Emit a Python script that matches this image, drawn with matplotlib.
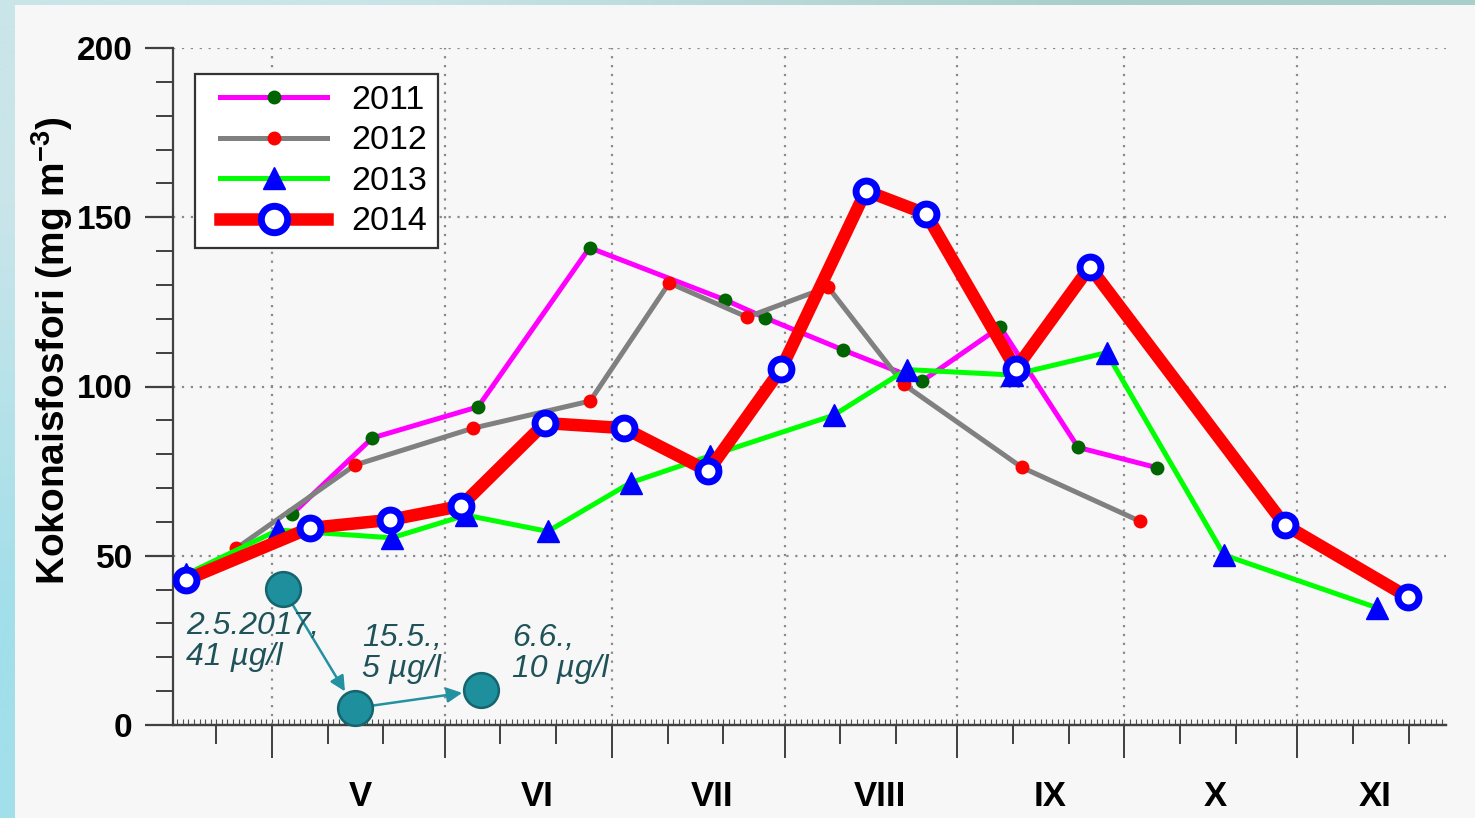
import datetime
import numpy as np
import matplotlib
matplotlib.use("Agg")
import matplotlib.pyplot as plt
from matplotlib.colors import to_rgb
from matplotlib.patches import Rectangle
from matplotlib.lines import Line2D
from matplotlib.legend_handler import HandlerLine2D

plt.rcParams['font.family'] = ['Liberation Sans', 'DejaVu Sans']
plt.rcParams['mathtext.fontset'] = 'custom'
plt.rcParams['mathtext.rm'] = 'Liberation Sans'
plt.rcParams['mathtext.bf'] = 'Liberation Sans:bold'
plt.rcParams['mathtext.default'] = 'bf'

NARROW = ['Liberation Sans Narrow', 'Liberation Sans', 'DejaVu Sans']

# sampling day (day of year) and total phosphorus (mg m-3) per year
days_2011 = [124.6, 139, 158, 178, 202.3, 209.5, 223.5, 237.7, 251.7, 265.7, 279.9]
vals_2011 = [62.3, 84.8, 94, 141, 125.6, 120.3, 110.8, 101.6, 117.6, 82, 76]

days_2012 = [114.6, 135.9, 157.1, 178.1, 192.3, 206.3, 220.8, 234.4, 255.6, 276.8]
vals_2012 = [52.2, 76.8, 87.7, 95.7, 130.6, 120.5, 129.4, 100.6, 76.1, 60.2]

days_2013 = [105.6, 122.1, 142.5, 155.8, 170.5, 185.4, 199.6, 221.8, 234.9, 253.9, 270.8, 291.9, 319.4]
vals_2013 = [44.5, 57.6, 55.3, 62, 57.2, 71.6, 79.5, 91.5, 105, 103.4, 110, 50.2, 34.6]

days_2014 = [105.6, 127.8, 142.2, 154.9, 170.0, 184.2, 199.3, 212.4, 227.6, 238.4, 254.5, 267.8, 302.8, 324.9]
vals_2014 = [42.9, 58.2, 60.6, 64.7, 89.2, 87.7, 75.0, 105.2, 157.8, 151.0, 105.2, 135.3, 59.1, 37.8]

# 2017 spot samples (µg/l)
days_2017 = [123.0, 135.9, 158.6]
vals_2017 = [40.2, 5.0, 10.3]
labels_2017 = ['2.5.2017,\n41 µg/l', '15.5.,\n5 µg/l', '6.6.,\n10 µg/l']

month_labels = ['V', 'VI', 'VII', 'VIII', 'IX', 'X', 'XI']
month_label_days = [136.8, 168.6, 200.0, 230.1, 260.7, 290.3, 319.0]


def doy(m, d):
    return datetime.date(2015, m, d).timetuple().tm_yday


month_starts = [doy(m, 1) for m in range(5, 12)]
dekads = [doy(m, d) for m in range(4, 12) for d in (11, 21)]

W, H = 1475, 818
fig = plt.figure(figsize=(W / 100, H / 100), dpi=100)

# background gradient + light panel
bg = fig.add_axes([0, 0, 1, 1], zorder=-10)
corners = np.array([[to_rgb('#c9e5e9'), to_rgb('#a9cfca')],
                    [to_rgb('#a2dfea'), to_rgb('#a8dde2')]])
bg.imshow(corners, extent=(0, 1, 0, 1), aspect='auto', interpolation='bilinear')
bg.add_patch(Rectangle((15 / W, 0), 1, 1 - 5 / H, transform=bg.transAxes,
                       facecolor='#f7f7f7', edgecolor='none'))
bg.set_xlim(0, 1)
bg.set_ylim(0, 1)
bg.axis('off')

ax = fig.add_axes([173 / W, 1 - 725 / H, (1446 - 173) / W, (725 - 48) / H], zorder=1)
ax.set_facecolor('none')

ax.plot(days_2011, vals_2011, color='#ff00ff', lw=3.6, marker='o', ms=9,
        mfc='#006400', mec='#006400', label='2011', zorder=3)
ax.plot(days_2012, vals_2012, color='#808080', lw=3.6, marker='o', ms=9,
        mfc='#ff0000', mec='#ff0000', label='2012', zorder=3)
ax.plot(days_2013, vals_2013, color='#00ff00', lw=3.6, marker='^', ms=16,
        mfc='#0000ff', mec='#0000ff', label='2013', zorder=4)
ax.plot(days_2014, vals_2014, color='#ff0000', lw=9, marker='o', ms=15,
        mfc='white', mec='#0000ff', mew=5, label='2014', zorder=5)

# 2017 samples with arrows
for i in range(len(days_2017) - 1):
    ax.annotate('', xy=(days_2017[i + 1], vals_2017[i + 1]),
                xytext=(days_2017[i], vals_2017[i]),
                arrowprops=dict(arrowstyle='-|>,head_length=0.9,head_width=0.45',
                                color='#2391a0', lw=1.8, shrinkA=0, shrinkB=14),
                zorder=6)
ax.plot(days_2017, vals_2017, ls='none', marker='o', ms=25,
        mfc='#1e8f9c', mec='#16646d', mew=1.8, zorder=7, clip_on=False)
offsets = [(-70, -16), (5, 61), (22, 48)]
for d, v, t, off in zip(days_2017, vals_2017, labels_2017, offsets):
    ax.annotate(t, xy=(d, v), xytext=off, textcoords='offset points',
                ha='left', va='top', fontsize=23, style='italic',
                color='#1f5359', linespacing=1.02, zorder=8)

ax.set_xlim(103.23, 331.73)
ax.set_ylim(0, 200)

ax.set_xticks(month_starts)
ax.set_xticklabels([])
ax.set_xticks([d for d in dekads if 103.23 < d < 331.73], minor=True)
ax.tick_params(axis='x', which='major', direction='out', length=24, width=1.4, color='#404040')
ax.tick_params(axis='x', which='minor', direction='out', length=14, width=1.4, color='#404040')

ax.set_yticks([0, 50, 100, 150, 200])
ax.set_yticks(np.arange(0, 201, 10), minor=True)
ax.tick_params(axis='y', which='major', direction='out', length=20, width=1.6,
               color='#404040', pad=9, labelsize=24)
ax.tick_params(axis='y', which='minor', direction='out', length=12, width=1.4, color='#404040')
for lab in ax.get_yticklabels():
    lab.set_family(NARROW)
    lab.set_fontweight('bold')

# daily small ticks on the x axis
sec = ax.secondary_xaxis('bottom')
sec.set_xticks(np.arange(104, 332))
sec.tick_params(direction='in', length=4, width=0.8, color='#505050', labelbottom=False)
sec.spines['bottom'].set_linewidth(1.6)
sec.spines['bottom'].set_color('#404040')

for x, lab in zip(month_label_days, month_labels):
    ax.annotate(lab, xy=(x, 0), xycoords=('data', 'axes fraction'),
                xytext=(0, -51.5), textcoords='offset points', ha='center', va='center',
                fontsize=25, fontweight='bold', family=NARROW)

ax.grid(True, which='major', color='#8a8a8a', ls=(0, (1, 3)), lw=1.6)
ax.set_axisbelow(True)
for s in ['top', 'right']:
    ax.spines[s].set_visible(False)
for s in ['left', 'bottom']:
    ax.spines[s].set_linewidth(1.6)
    ax.spines[s].set_color('#404040')

fig.text(52 / W, 1 - 351 / H, 'Kokonaisfosfori (mg m$^{-3}$)', rotation=90,
         ha='center', va='center', fontsize=28, fontweight='bold')

leg = ax.legend(loc='upper left', bbox_to_anchor=((195 - 173) / 1273, (725 - 74) / 677),
                borderaxespad=0, fontsize=24.5, frameon=True, fancybox=False,
                edgecolor='#333333', framealpha=1, handlelength=3.57,
                handletextpad=0.7, labelspacing=0.28, borderpad=0.32,
                handler_map={Line2D: HandlerLine2D(xpad=0.42)})
leg.get_frame().set_linewidth(1.6)
leg.legend_handles[3].set_markersize(19)

fig.savefig('out.png', dpi=100)
